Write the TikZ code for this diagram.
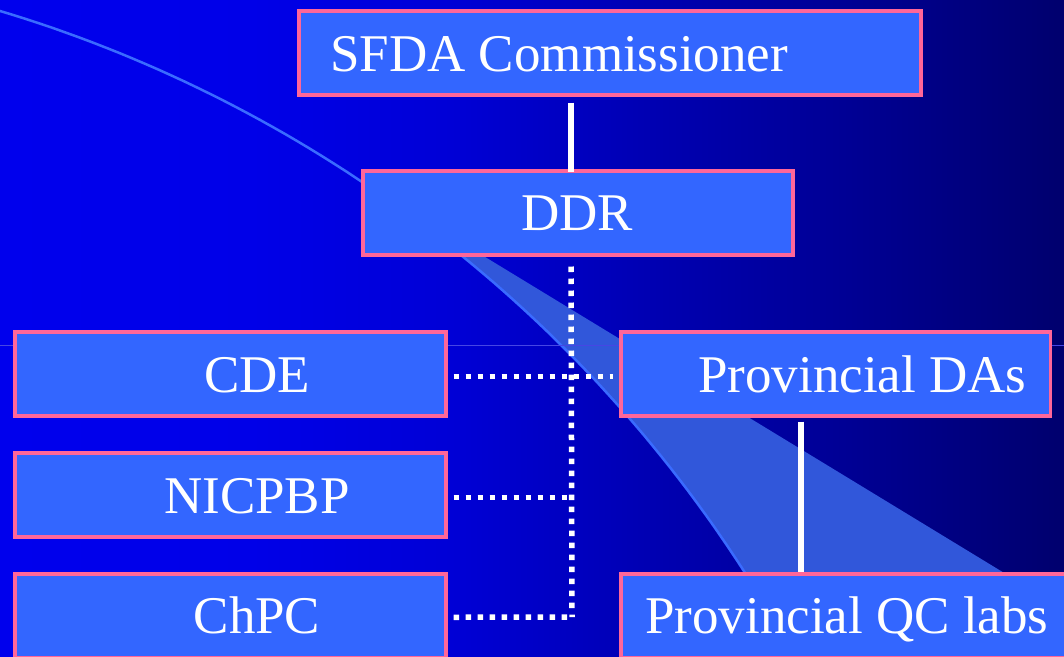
\documentclass[tikz,border=0pt]{standalone}
\usepackage{fontspec}
\setmainfont{Liberation Serif}
\usetikzlibrary{calc}
\definecolor{boxfill}{HTML}{3366FF}
\definecolor{boxline}{HTML}{FF6699}
\definecolor{swoosh}{HTML}{3A6BFF}
\definecolor{bandcol}{HTML}{3157DA}
\definecolor{hline}{RGB}{70,70,228}
\pgfdeclarehorizontalshading{bgshade}{100bp}{rgb(0bp)=(0,0,0.93); rgb(25bp)=(0,0,0.93); rgb(36.75bp)=(0,0,0.91); rgb(46.15bp)=(0,0,0.84); rgb(55.5bp)=(0,0,0.70); rgb(64.9bp)=(0,0,0.58); rgb(75bp)=(0,0,0.43); rgb(100bp)=(0,0,0.43)}
\begin{document}
\begin{tikzpicture}[x=1pt,y=-1pt,
  orgbox/.style={draw=boxline, fill=boxfill, line width=3.5pt, rectangle, anchor=north west, inner sep=0pt, minimum height=84pt},
  boxtext/.style={text=white, font=\fontsize{53}{60}\selectfont, inner sep=0pt},
  dotline/.style={draw=white, line width=5.5pt, dash pattern=on 5.5pt off 6.5pt},
  solidline/.style={draw=white, line width=6pt},
]
\useasboundingbox (0,0) rectangle (1064,656);
\clip (0,0) rectangle (1064,656);
% background
\shade[shading=bgshade] (0,0) rectangle (1064,656);
% swoosh band and line (arc of a large circle)
\fill[bandcol] plot[domain=-56.07:-26, samples=50, variable=\t] ({-387+1345*cos(\t)}, {1299+1345*sin(\t)}) -- (1180,680) -- cycle;
\draw[swoosh, line width=2.5pt] plot[domain=-74:-26, samples=80, variable=\t] ({-387+1345*cos(\t)}, {1299+1345*sin(\t)});
\draw[hline, line width=1pt] (0,345) -- (1064,345);
% boxes
\node[orgbox, minimum width=622pt] (sfda) at (297,9) {};
\node[orgbox, minimum width=430pt] (ddr) at (361,169) {};
\node[orgbox, minimum width=431pt] (cde) at (13,330) {};
\node[orgbox, minimum width=431pt] (nic) at (13,451) {};
\node[orgbox, minimum width=431pt] (chpc) at (13,572) {};
\node[orgbox, minimum width=429.5pt] (provda) at (619,330) {};
\node[orgbox, minimum width=500pt] (provqc) at (619,572) {};
% texts
\node[boxtext, anchor=base west] (sfdaT) at (330,71) {SFDA Commissioner};
\node[boxtext, anchor=base] (ddrT) at (577,230) {DDR};
\node[boxtext, anchor=base] (cdeT) at (257,392) {CDE};
\node[boxtext, anchor=base] (nicT) at (257,513) {NICPBP};
\node[boxtext, anchor=base] (chpcT) at (257,633) {ChPC};
\node[boxtext, anchor=base west] (provdaT) at (698,392) {Provincial DAs};
\node[boxtext, anchor=base west] (provqcT) at (645,633) {Provincial QC labs};
% connectors
\coordinate (trunk) at (571,0);
\coordinate (prov) at (801,0);
\coordinate (corner) at (572,617);
\draw[solidline] ($(sfda.south -| trunk)+(0,6)$) -- ($(ddr.north -| trunk)+(0,3)$);
\draw[solidline] ($(provda.south -| prov)+(0,4)$) -- (provqc.north -| prov);
\draw[dotline] ($(ddr.south -| trunk)+(0,10)$) -- (corner);
\draw[dotline] ($(cde.east)+(6,2.5)$) -- ($(provda.west)+(-6,2.5)$);
\draw[dotline] ($(nic.east)+(6,2.5)$) -- ($(nic.east -| trunk)+(0,2.5)$);
\draw[dotline] ($(chpc.east)+(6,1.5)$) -- (corner);
\end{tikzpicture}
\end{document}
